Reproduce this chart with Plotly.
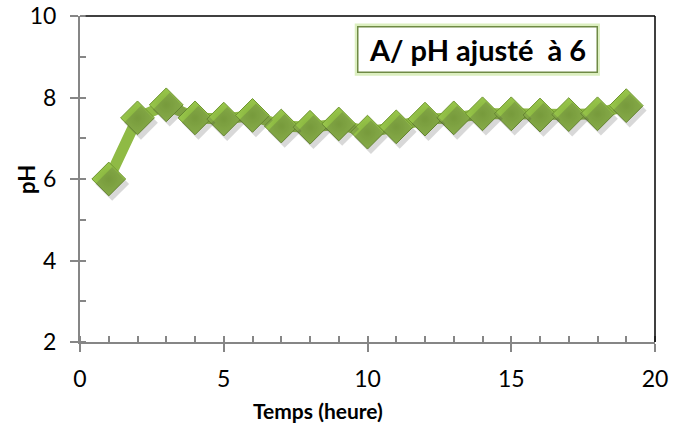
import plotly.graph_objects as go

# Data
temps = [1, 2, 3, 4, 5, 6, 7, 8, 9, 10, 11, 12, 13, 14, 15, 16, 17, 18, 19]
ph = [6.0, 7.5, 7.82, 7.5, 7.47, 7.56, 7.3, 7.27, 7.35, 7.15, 7.28, 7.47, 7.5, 7.6, 7.6, 7.57, 7.58, 7.6, 7.8]

x_ticks = [0, 5, 10, 15, 20]
y_ticks = [2, 4, 6, 8, 10]
title_text = "A/ pH ajusté  à 6"
x_title = "Temps (heure)"
y_title = "pH"

FONT = "Lato, Carlito, Calibri, sans-serif"
AXIS_GRAY = "#868686"

fig = go.Figure()

# soft shadow of the series (same data, drawn on slightly offset overlay axes)
fig.add_trace(go.Scatter(
    x=temps, y=ph, mode="markers",
    marker=dict(symbol="diamond", size=26, color="rgba(60,60,60,0.2)", line=dict(width=0)),
    xaxis="x2", yaxis="y2", hoverinfo="skip", showlegend=False,
))

fig.add_trace(go.Scatter(
    x=temps, y=ph, mode="lines+markers",
    line=dict(color="#8fba45", width=11),
    marker=dict(symbol="diamond", size=26, color="#99c74c",
                gradient=dict(type="radial", color="#86b23c"),
                line=dict(color="#6f9530", width=1)),
    showlegend=False,
))

axis_common = dict(showgrid=False, zeroline=False, automargin=False,
                   showline=True, linecolor=AXIS_GRAY, linewidth=2,
                   ticks="outside", ticklen=8, tickcolor=AXIS_GRAY, tickwidth=1.5,
                   tickfont=dict(size=23), fixedrange=True)

fig.update_layout(
    width=673, height=434,
    margin=dict(l=80, r=18, t=16, b=92, autoexpand=False),
    paper_bgcolor="white", plot_bgcolor="white",
    font=dict(family=FONT, size=23, color="black"),
    xaxis=dict(range=[0, 20], tickvals=x_ticks, ticklabelstandoff=7,
               minor=dict(dtick=1, ticks="inside", ticklen=6, tickcolor=AXIS_GRAY, tickwidth=1.5, showgrid=False),
               **axis_common),
    yaxis=dict(range=[2, 10], tickvals=y_ticks, ticklabelstandoff=9,
               minor=dict(dtick=1, ticks="inside", ticklen=6, tickcolor=AXIS_GRAY, tickwidth=1.5, showgrid=False),
               **axis_common),
    xaxis2=dict(range=[-0.12, 19.88], overlaying="x", visible=False, fixedrange=True),
    yaxis2=dict(range=[2.12, 10.12], overlaying="y", visible=False, fixedrange=True),
)

# frame on top and right (black)
fig.add_shape(type="line", xref="paper", yref="paper", x0=0.01, x1=1, y0=1, y1=1,
              line=dict(color="black", width=1.5))
fig.add_shape(type="line", xref="paper", yref="paper", x0=1, x1=1, y0=0, y1=1,
              line=dict(color="black", width=1.5))

# glow behind the title box
fig.add_shape(type="rect", xref="paper", yref="paper", x0=0.483, x1=0.899, y0=0.826, y1=0.968,
              line=dict(color="#dcefc0", width=6), fillcolor="white", layer="above")

fig.add_annotation(text="<b>" + title_text + "</b>", xref="paper", yref="paper",
                   x=0.691, y=0.897, xanchor="center", yanchor="middle", showarrow=False,
                   font=dict(family=FONT, size=29, color="black"),
                   bordercolor="#6f8a45", borderwidth=1.5, borderpad=5, bgcolor="white",
                   width=228, height=34)

fig.add_annotation(text="<b>" + x_title + "</b>", xref="paper", yref="paper",
                   x=0.414, y=-0.21, xanchor="center", yanchor="middle", showarrow=False,
                   font=dict(family=FONT, size=21, color="black"))

fig.add_annotation(text="<b>" + y_title + "</b>", xref="paper", yref="paper",
                   x=-0.094, y=0.5, xanchor="center", yanchor="middle", textangle=-90,
                   showarrow=False, font=dict(family=FONT, size=22, color="black"))

fig.write_html("out.html", config={"displayModeBar": False},
               post_script="document.body.style.margin='0';")
